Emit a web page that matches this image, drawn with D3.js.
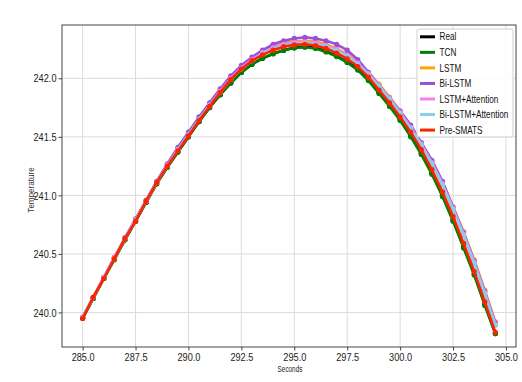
<!DOCTYPE html>
<html>
<head>
<meta charset="utf-8">
<script src="https://cdn.jsdelivr.net/npm/d3@7"></script>
<style>
  html, body { margin: 0; padding: 0; background: #fff; }
  svg { display: block; font-family: "Liberation Sans", Arial, sans-serif; }
</style>
</head>
<body>
<svg id="chart" width="522" height="382"></svg>
<script>
// ---- data ----
const seconds = [285.0, 285.5, 286.0, 286.5, 287.0, 287.5, 288.0, 288.5, 289.0, 289.5,
                 290.0, 290.5, 291.0, 291.5, 292.0, 292.5, 293.0, 293.5, 294.0, 294.5,
                 295.0, 295.5, 296.0, 296.5, 297.0, 297.5, 298.0, 298.5, 299.0, 299.5,
                 300.0, 300.5, 301.0, 301.5, 302.0, 302.5, 303.0, 303.5, 304.0, 304.5];

const real = [239.95, 240.12, 240.29, 240.46, 240.62, 240.78, 240.94, 241.10, 241.24, 241.37,
              241.50, 241.63, 241.75, 241.86, 241.96, 242.05, 242.12, 242.17, 242.21, 242.24,
              242.26, 242.27, 242.26, 242.23, 242.19, 242.14, 242.08, 241.99, 241.88, 241.77,
              241.65, 241.51, 241.36, 241.19, 241.00, 240.79, 240.56, 240.33, 240.07, 239.82];

const tcn = [239.95, 240.12, 240.29, 240.45, 240.62, 240.78, 240.94, 241.10, 241.24, 241.37,
             241.50, 241.63, 241.75, 241.86, 241.96, 242.05, 242.12, 242.17, 242.21, 242.24,
             242.26, 242.265, 242.255, 242.225, 242.185, 242.135, 242.07, 241.98, 241.87, 241.76,
             241.64, 241.50, 241.35, 241.18, 240.99, 240.78, 240.55, 240.32, 240.06, 239.82];

const lstm = [239.96, 240.13, 240.30, 240.47, 240.63, 240.79, 240.95, 241.11, 241.26, 241.40,
              241.53, 241.66, 241.78, 241.90, 242.01, 242.10, 242.17, 242.23, 242.27, 242.30,
              242.315, 242.32, 242.315, 242.29, 242.255, 242.205, 242.14, 242.05, 241.95, 241.84,
              241.72, 241.59, 241.45, 241.29, 241.11, 240.90, 240.69, 240.45, 240.19, 239.92];

const biLstm = [239.96, 240.13, 240.30, 240.47, 240.64, 240.80, 240.96, 241.12, 241.27, 241.41,
                241.54, 241.67, 241.79, 241.91, 242.02, 242.11, 242.18, 242.24, 242.29, 242.32,
                242.34, 242.35, 242.34, 242.32, 242.29, 242.24, 242.16, 242.05, 241.94, 241.83,
                241.72, 241.60, 241.45, 241.30, 241.12, 240.90, 240.68, 240.44, 240.18, 239.91];

const lstmAtt = [239.96, 240.13, 240.30, 240.47, 240.63, 240.79, 240.95, 241.11, 241.26, 241.39,
                 241.52, 241.65, 241.77, 241.89, 242.00, 242.09, 242.16, 242.22, 242.26, 242.29,
                 242.305, 242.31, 242.30, 242.28, 242.245, 242.195, 242.13, 242.04, 241.94, 241.83,
                 241.71, 241.58, 241.44, 241.28, 241.10, 240.89, 240.67, 240.43, 240.17, 239.90];

const biLstmAtt = [239.96, 240.13, 240.30, 240.46, 240.63, 240.79, 240.95, 241.11, 241.25, 241.39,
                   241.52, 241.65, 241.77, 241.88, 241.99, 242.08, 242.15, 242.21, 242.25, 242.28,
                   242.295, 242.30, 242.29, 242.27, 242.235, 242.185, 242.12, 242.03, 241.93, 241.82,
                   241.70, 241.57, 241.43, 241.27, 241.09, 240.88, 240.66, 240.42, 240.16, 239.89];

const preSmats = [239.95, 240.13, 240.29, 240.46, 240.63, 240.78, 240.95, 241.11, 241.25, 241.38,
                  241.51, 241.64, 241.76, 241.88, 241.99, 242.08, 242.15, 242.20, 242.24, 242.27,
                  242.285, 242.29, 242.28, 242.255, 242.215, 242.165, 242.10, 242.01, 241.90, 241.79,
                  241.67, 241.54, 241.39, 241.22, 241.03, 240.82, 240.59, 240.35, 240.09, 239.83];

const seriesNames = ["Real", "TCN", "LSTM", "Bi-LSTM", "LSTM+Attention", "Bi-LSTM+Attention", "Pre-SMATS"];
const seriesValues = [real, tcn, lstm, biLstm, lstmAtt, biLstmAtt, preSmats];
const seriesColors = ["#000000", "#008000", "#ffa500", "#9a4fd8", "#f77cf7", "#87ceeb", "#ff2200"];

const xTicks = [285.0, 287.5, 290.0, 292.5, 295.0, 297.5, 300.0, 302.5, 305.0];
const yTicks = [240.0, 240.5, 241.0, 241.5, 242.0];

// ---- layout ----
const mLeft = 62, mRight = 516, mTop = 25, mBottom = 347;
const svg = d3.select("#chart");

const x = d3.scaleLinear().domain([284.025, 305.475]).range([mLeft, mRight]);
const y = d3.scaleLinear().domain([239.705, 242.455]).range([mBottom, mTop]);

const SQ = 0.8; // horizontal squeeze of the narrow-looking reference font

// grid
const grid = svg.append("g");
grid.selectAll(".gx").data(xTicks).join("line")
  .attr("x1", d => x(d)).attr("x2", d => x(d))
  .attr("y1", mTop).attr("y2", mBottom)
  .attr("stroke", "#dcdcdc").attr("stroke-width", 1);
grid.selectAll(".gy").data(yTicks).join("line")
  .attr("x1", mLeft).attr("x2", mRight)
  .attr("y1", d => y(d)).attr("y2", d => y(d))
  .attr("stroke", "#dcdcdc").attr("stroke-width", 1);

// series
svg.append("clipPath").attr("id", "clip")
  .append("rect").attr("x", mLeft).attr("y", mTop).attr("width", mRight - mLeft).attr("height", mBottom - mTop);

const plot = svg.append("g").attr("clip-path", "url(#clip)");
const line = d3.line().x((d, i) => x(seconds[i])).y(d => y(d)).curve(d3.curveLinear);

seriesValues.forEach((vals, k) => {
  const g = plot.append("g");
  g.append("path").datum(vals)
    .attr("d", line)
    .attr("fill", "none")
    .attr("stroke", seriesColors[k])
    .attr("stroke-width", 2.6)
    .attr("stroke-linejoin", "round");
  g.selectAll("circle").data(vals).join("circle")
    .attr("cx", (d, i) => x(seconds[i]))
    .attr("cy", d => y(d))
    .attr("r", 2.6)
    .attr("fill", seriesColors[k]);
});

// frame
svg.append("rect").attr("x", mLeft).attr("y", mTop)
  .attr("width", mRight - mLeft).attr("height", mBottom - mTop)
  .attr("fill", "none").attr("stroke", "#444").attr("stroke-width", 1);

// axes
const xAxis = d3.axisBottom(x).tickValues(xTicks).tickFormat(d3.format(".1f")).tickSize(3.5).tickPadding(2);
const yAxis = d3.axisLeft(y).tickValues(yTicks).tickFormat(d3.format(".1f")).tickSize(3.5).tickPadding(2);

const gx = svg.append("g").attr("transform", `translate(0,${mBottom})`).call(xAxis);
const gy = svg.append("g").attr("transform", `translate(${mLeft},0)`).call(yAxis);
[gx, gy].forEach(g => {
  g.select(".domain").remove();
  g.selectAll(".tick line").attr("stroke", "#444");
  g.selectAll(".tick text").attr("fill", "#222").attr("font-size", 11.5)
    .attr("font-family", "Liberation Sans, Arial, sans-serif")
    .attr("transform", `scale(${SQ},1)`);
});
// keep right-aligned y labels ending at the same spot after the squeeze
gy.selectAll(".tick text").attr("x", -5.5 / SQ);

// axis titles
svg.append("text").attr("transform", `translate(${(mLeft + mRight) / 2 + 1},372) scale(0.75,1)`)
  .attr("text-anchor", "middle").attr("font-size", 8.5).attr("fill", "#222").text("Seconds");
svg.append("text").attr("transform", `translate(34,190) rotate(-90) scale(0.95,1)`)
  .attr("text-anchor", "middle").attr("font-size", 8.5).attr("fill", "#333").text("Temperature");

// legend
const lg = svg.append("g");
lg.append("rect").attr("x", 417).attr("y", 29).attr("width", 96).attr("height", 108)
  .attr("rx", 2).attr("fill", "rgba(255,255,255,0.85)").attr("stroke", "#d0d0d0").attr("stroke-width", 1);
seriesNames.forEach((name, k) => {
  const yy = 36.8 + k * 15.55;
  lg.append("line").attr("x1", 420).attr("x2", 435).attr("y1", yy).attr("y2", yy)
    .attr("stroke", seriesColors[k]).attr("stroke-width", 3);
  lg.append("text").attr("transform", `translate(439.5,${yy + 3.6}) scale(0.82,1)`)
    .attr("font-size", 10).attr("fill", "#111").text(name);
});
</script>
</body>
</html>
